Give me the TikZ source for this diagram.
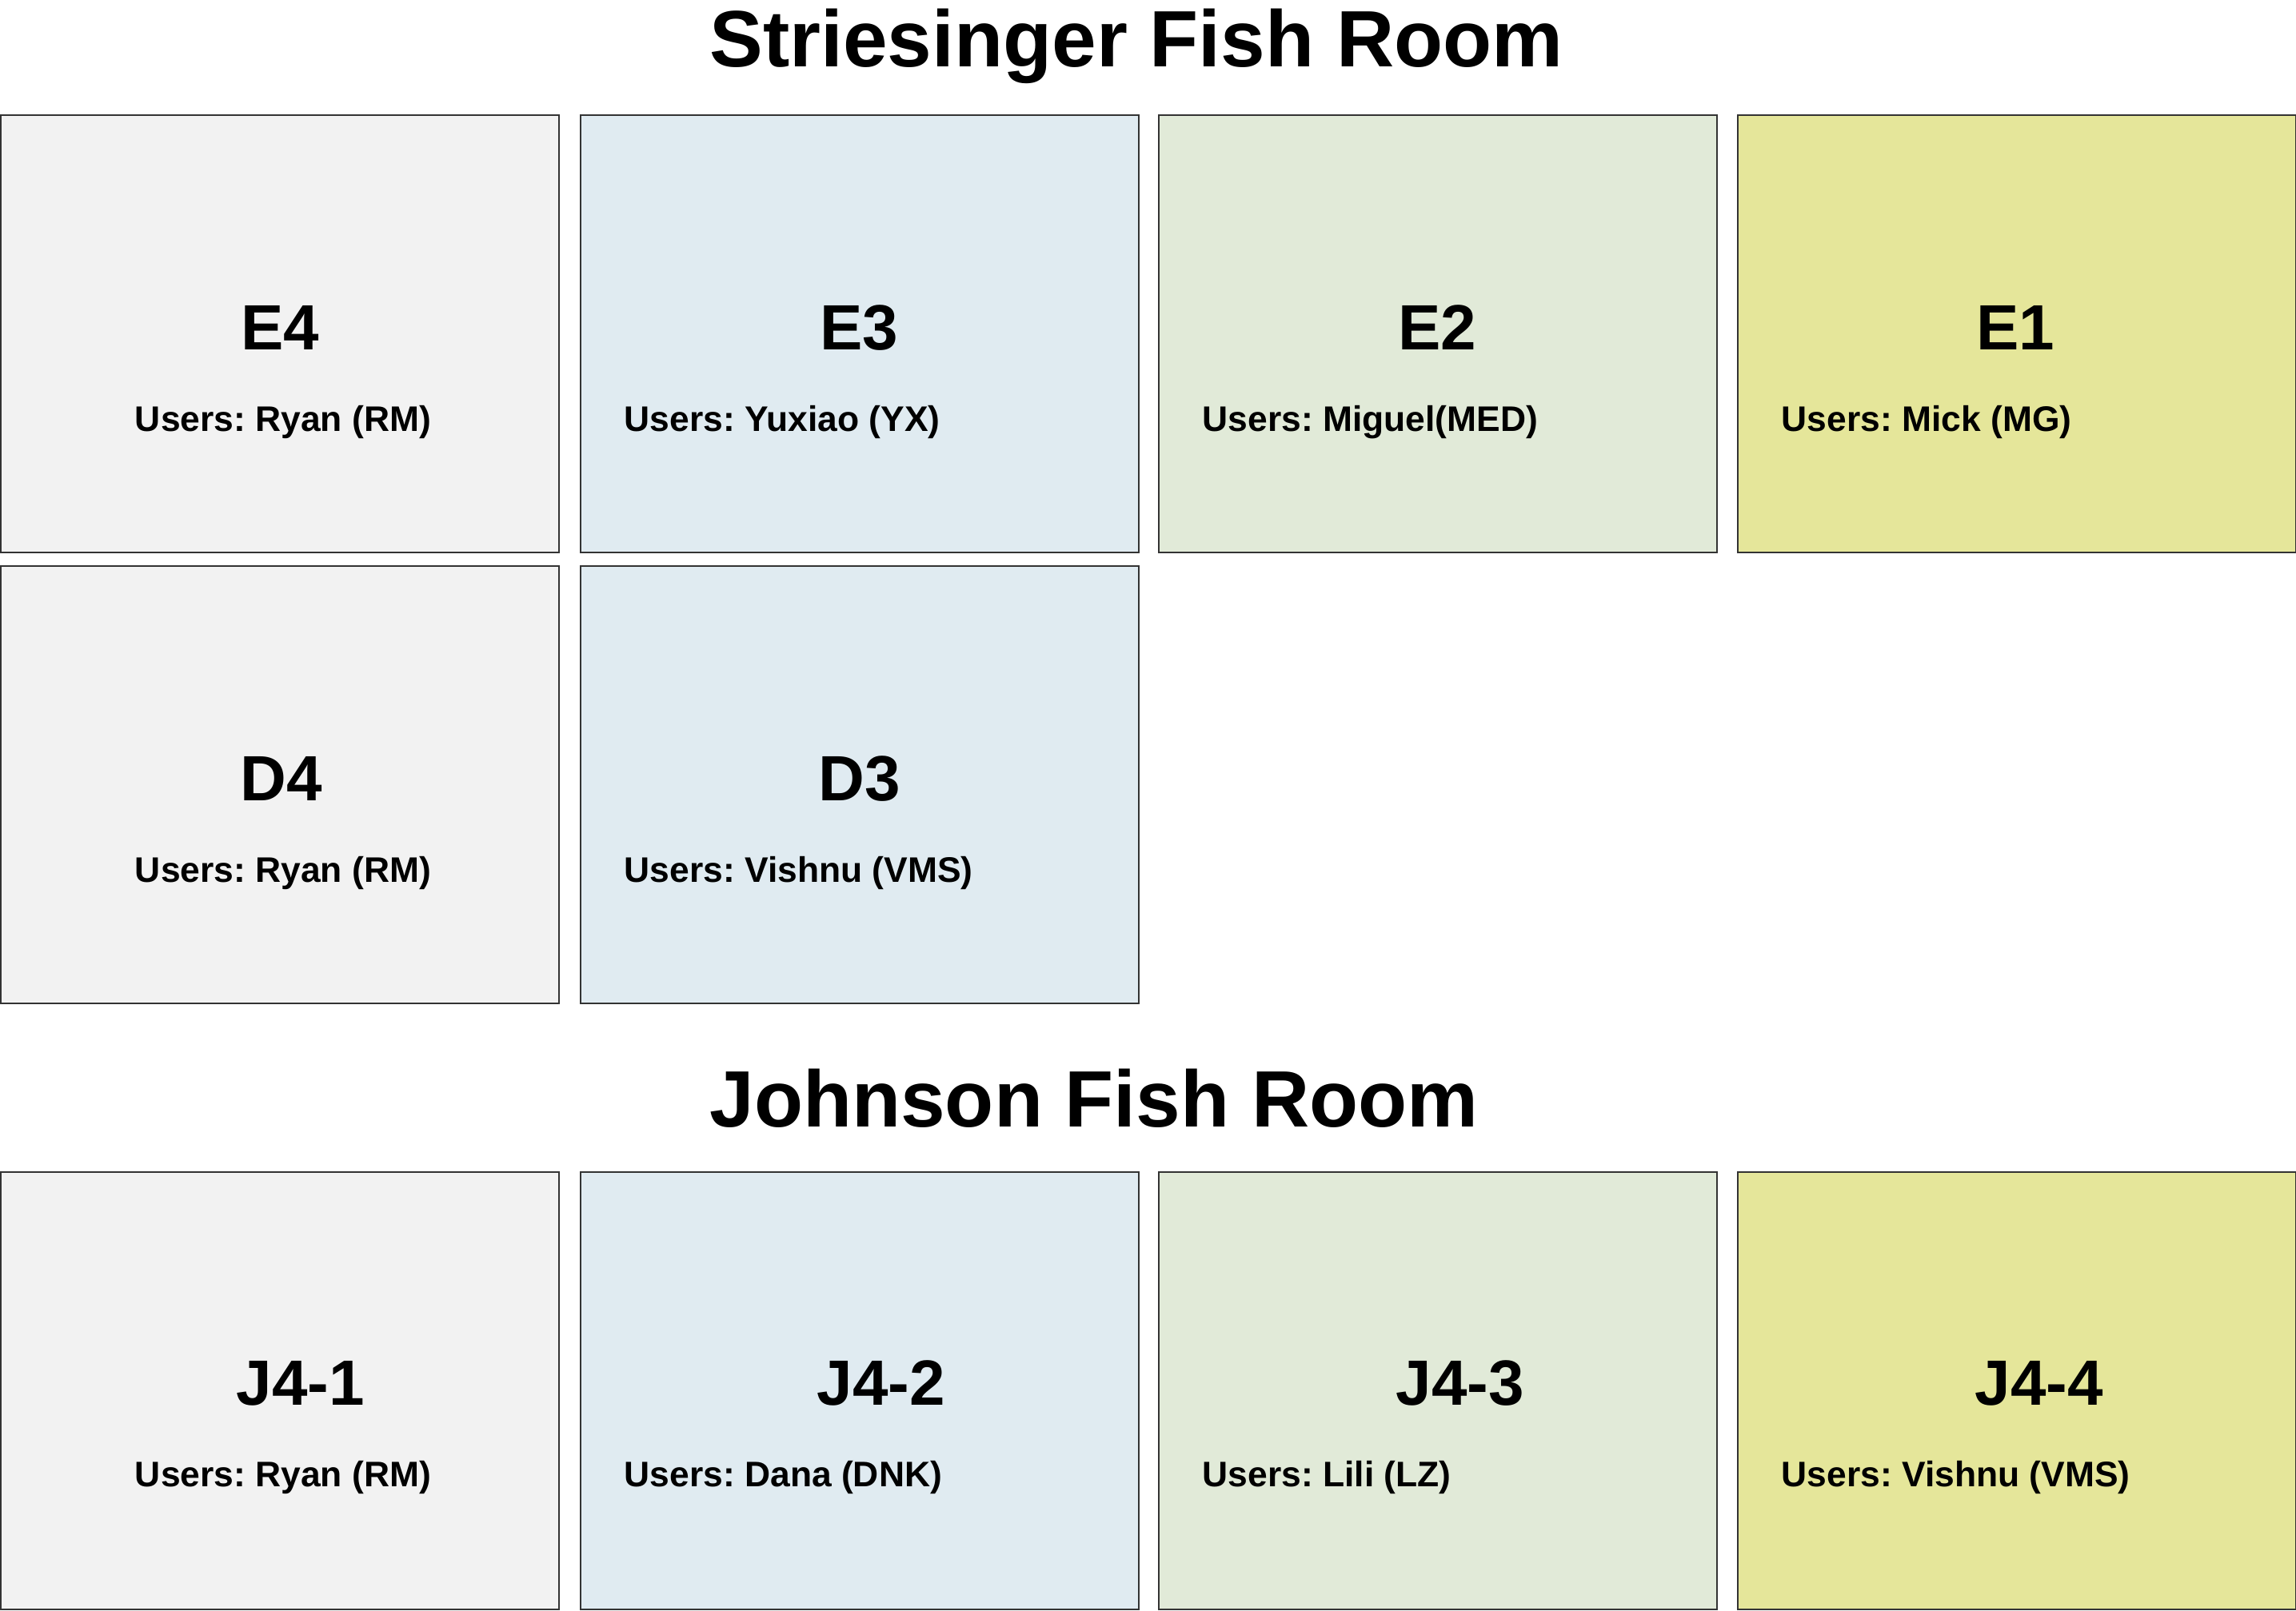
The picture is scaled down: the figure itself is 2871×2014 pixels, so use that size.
\documentclass[tikz,border=0pt]{standalone}
\usepackage{fontspec}
\setmainfont{Liberation Sans}
\frenchspacing

\definecolor{tankgray}{RGB}{242,242,242}
\definecolor{tankblue}{RGB}{224,235,241}
\definecolor{tankgreen}{RGB}{225,234,216}
\definecolor{tankyellow}{RGB}{229,230,154}
\definecolor{tankline}{RGB}{51,51,51}

\tikzset{
  tank/.style={draw=tankline, line width=0.6pt, rectangle, minimum width=174.5pt, minimum height=136.75pt, inner sep=0pt, anchor=north west},
  roomtitle/.style={font=\fontsize{25}{30}\selectfont\bfseries},
  tanklabel/.style={font=\fontsize{20}{24}\selectfont\bfseries},
  users/.style={font=\fontsize{11.1}{13}\selectfont\bfseries, inner sep=0pt}
}

\begin{document}
\begin{tikzpicture}[x=0.25pt,y=0.25pt,yscale=-1,xscale=1]
\useasboundingbox (0,0) rectangle (2871,2014);

% Striesinger room
\draw (1421,58) node [roomtitle] (striesinger) {Striesinger Fish Room};

\node [tank, fill=tankgray]   (e4) at (0,143) {};
\node [tank, fill=tankblue]   (e3) at (725,143) {};
\node [tank, fill=tankgreen]  (e2) at (1448,143) {};
\node [tank, fill=tankyellow] (e1) at (2172,143) {};
\node [tank, fill=tankgray]   (d4) at (0,707) {};
\node [tank, fill=tankblue]   (d3) at (725,707) {};

\draw (350,410) node [tanklabel] (e4name) {E4};
\draw (1074,410) node [tanklabel] (e3name) {E3};
\draw (1797,410) node [tanklabel] (e2name) {E2};
\draw (2520,410) node [tanklabel] (e1name) {E1};
\draw (352,974) node [tanklabel] (d4name) {D4};
\draw (1075,974) node [tanklabel] (d3name) {D3};

\draw (354,528) node [users] (e4users) {Users: Ryan (RM)};
\draw (780,528) node [users, anchor=west] (e3users) {Users: Yuxiao (YX)};
\draw (1503,528) node [users, anchor=west] (e2users) {Users: Miguel(MED)};
\draw (2227,528) node [users, anchor=west] (e1users) {Users: Mick (MG)};
\draw (354,1092) node [users] (d4users) {Users: Ryan (RM)};
\draw (780,1092) node [users, anchor=west] (d3users) {Users: Vishnu (VMS)};

% Johnson room
\draw (1368,1374) node [roomtitle] (johnson) {Johnson Fish Room};

\node [tank, fill=tankgray]   (j1) at (0,1465) {};
\node [tank, fill=tankblue]   (j2) at (725,1465) {};
\node [tank, fill=tankgreen]  (j3) at (1448,1465) {};
\node [tank, fill=tankyellow] (j4) at (2172,1465) {};

\draw (376,1730) node [tanklabel] (j1name) {J4-1};
\draw (1102,1730) node [tanklabel] (j2name) {J4-2};
\draw (1826,1730) node [tanklabel] (j3name) {J4-3};
\draw (2550,1730) node [tanklabel] (j4name) {J4-4};

\draw (354,1848) node [users] (j1users) {Users: Ryan (RM)};
\draw (780,1848) node [users, anchor=west] (j2users) {Users: Dana (DNK)};
\draw (1503,1848) node [users, anchor=west] (j3users) {Users: Lili (LZ)};
\draw (2227,1848) node [users, anchor=west] (j4users) {Users: Vishnu (VMS)};

\end{tikzpicture}
\end{document}
